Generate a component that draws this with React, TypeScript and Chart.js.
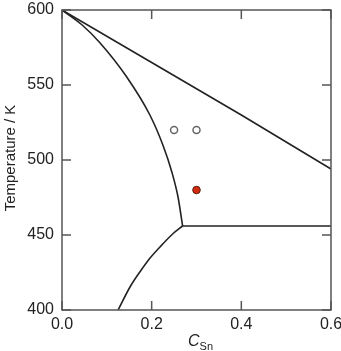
import React, { useEffect, useRef } from "react";
import Chart from "chart.js/auto";

const xTicks = [0.0, 0.2, 0.4, 0.6];
const yTicks = [400, 450, 500, 550, 600];

const liquidus = [
  { x: 0.0, y: 600 },
  { x: 0.2, y: 565 },
  { x: 0.4, y: 530 },
  { x: 0.6, y: 494 },
];
const solidus = [
  { x: 0.0, y: 600 },
  { x: 0.045, y: 590 },
  { x: 0.085, y: 578 },
  { x: 0.144, y: 555.5 },
  { x: 0.196, y: 530 },
  { x: 0.225, y: 510 },
  { x: 0.245, y: 492 },
  { x: 0.259, y: 475 },
  { x: 0.269, y: 456 },
];
const solvus = [
  { x: 0.125, y: 400 },
  { x: 0.152, y: 415.5 },
  { x: 0.174, y: 425.5 },
  { x: 0.196, y: 434.5 },
  { x: 0.219, y: 442.2 },
  { x: 0.248, y: 451 },
  { x: 0.269, y: 456 },
];
const eutectic = [
  { x: 0.269, y: 456 },
  { x: 0.6, y: 456 },
];
const openPoints = [
  { x: 0.25, y: 520 },
  { x: 0.3, y: 520 },
];
const redPoints = [{ x: 0.3, y: 480 }];

const FONT = '"Liberation Sans", Arial, sans-serif';

const decor = {
  id: "decor",
  afterDraw(chart: any) {
    const { ctx, chartArea: a } = chart;
    const xs = chart.scales.x;
    const ys = chart.scales.y;
    ctx.save();
    ctx.strokeStyle = "#555";
    ctx.lineWidth = 1.5;
    ctx.strokeRect(a.left, a.top, a.right - a.left, a.bottom - a.top);
    const L = 9;
    ctx.beginPath();
    xTicks.forEach((v) => {
      const px = xs.getPixelForValue(v);
      ctx.moveTo(px, a.bottom);
      ctx.lineTo(px, a.bottom - L);
      ctx.moveTo(px, a.top);
      ctx.lineTo(px, a.top + L);
    });
    yTicks.forEach((v) => {
      const py = ys.getPixelForValue(v);
      ctx.moveTo(a.left, py);
      ctx.lineTo(a.left + L, py);
      ctx.moveTo(a.right, py);
      ctx.lineTo(a.right - L, py);
    });
    ctx.stroke();

    ctx.fillStyle = "#222";
    ctx.font = `16px ${FONT}`;
    ctx.textAlign = "center";
    ctx.textBaseline = "middle";
    xTicks.forEach((v) => {
      ctx.fillText(v.toFixed(1), xs.getPixelForValue(v), a.bottom + 15);
    });
    ctx.textAlign = "right";
    yTicks.forEach((v) => {
      ctx.fillText(String(v), a.left - 8, ys.getPixelForValue(v));
    });

    ctx.save();
    ctx.translate(11, (a.top + a.bottom) / 2 - 2);
    ctx.rotate(-Math.PI / 2);
    ctx.textAlign = "center";
    ctx.textBaseline = "middle";
    ctx.font = `15px ${FONT}`;
    ctx.fillText("Temperature / K", 0, 0);
    ctx.restore();

    ctx.textAlign = "left";
    ctx.textBaseline = "alphabetic";
    ctx.font = `italic 16px ${FONT}`;
    const cw = ctx.measureText("C").width;
    ctx.font = `11px ${FONT}`;
    const sw = ctx.measureText("Sn").width;
    const cx = (a.left + a.right) / 2 - (cw + sw) / 2 + 4;
    ctx.font = `italic 16px ${FONT}`;
    ctx.fillText("C", cx, 346);
    ctx.font = `11px ${FONT}`;
    ctx.fillText("Sn", cx + cw, 350);
    ctx.restore();
  },
};

export default function App() {
  const ref = useRef<HTMLCanvasElement>(null);
  useEffect(() => {
    const lineDs = (data: any[], smooth: boolean) => ({
      data,
      showLine: true,
      borderColor: "#222",
      borderWidth: 1.6,
      pointRadius: 0,
      cubicInterpolationMode: smooth ? "monotone" : "default",
      tension: 0,
      fill: false,
    });
    const chart = new Chart(ref.current!, {
      type: "scatter",
      data: {
        datasets: [
          lineDs(liquidus, true),
          lineDs(solidus, true),
          lineDs(solvus, true),
          lineDs(eutectic, false),
          {
            data: openPoints,
            pointRadius: 3.5,
            pointBackgroundColor: "#fff",
            pointBorderColor: "#666",
            pointBorderWidth: 1.5,
            showLine: false,
          },
          {
            data: redPoints,
            pointRadius: 3.8,
            pointBackgroundColor: "#d42a10",
            pointBorderColor: "#5a2010",
            pointBorderWidth: 1,
            showLine: false,
          },
        ],
      },
      options: {
        animation: false,
        responsive: false,
        layout: { padding: { left: 62, right: 10, top: 10, bottom: 41 } },
        plugins: { legend: { display: false }, tooltip: { enabled: false } },
        scales: {
          x: { type: "linear", min: 0, max: 0.6, display: false },
          y: { type: "linear", min: 400, max: 600, display: false },
        },
      },
      plugins: [decor],
    });
    return () => chart.destroy();
  }, []);
  return (
    <div style={{ position: "fixed", left: 0, top: 0, width: 341, height: 351, background: "#fff" }}>
      <canvas ref={ref} width={341} height={351} />
    </div>
  );
}
